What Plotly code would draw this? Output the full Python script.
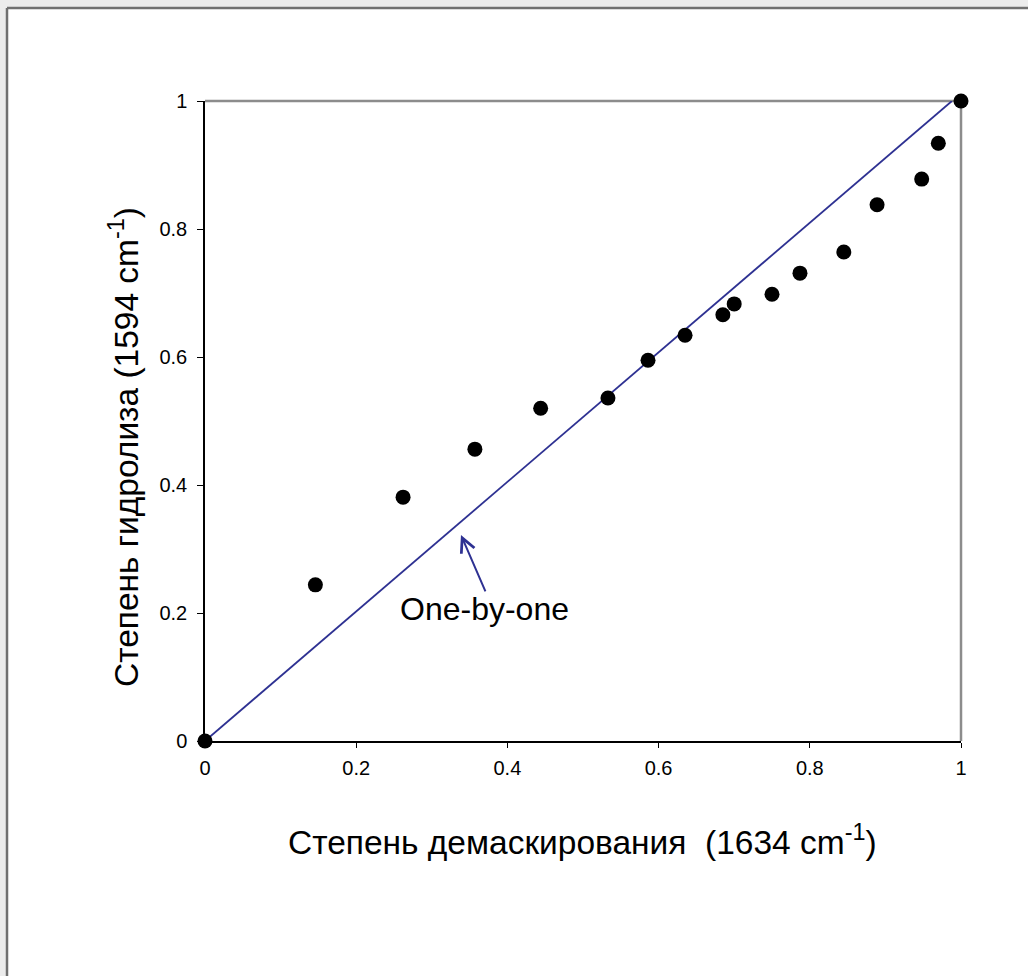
import plotly.graph_objects as go

# data
x_demask = [0.0, 0.146, 0.262, 0.357, 0.444, 0.533, 0.586, 0.635, 0.685, 0.700,
            0.750, 0.787, 0.845, 0.889, 0.948, 0.970, 1.0]
y_hydro = [0.0, 0.244, 0.381, 0.456, 0.520, 0.536, 0.595, 0.634, 0.666, 0.683,
           0.698, 0.731, 0.764, 0.838, 0.878, 0.934, 1.0]
line_x = [0.0, 0.988]
line_y = [0.0, 1.0]
tick_vals = [0, 0.2, 0.4, 0.6, 0.8, 1]
tick_text = ["0", "0.2", "0.4", "0.6", "0.8", "1"]

W, H = 1028, 976
L, R, T, B = 205, 961, 101, 741


def px(x):
    return (x - L) / (R - L)


def py(y):
    return (B - y) / (B - T)


FONT = "Liberation Sans, Arial, sans-serif"

fig = go.Figure()
fig.add_trace(go.Scatter(x=line_x, y=line_y, mode="lines",
                         line=dict(color="#2E3192", width=1.8),
                         showlegend=False, hoverinfo="skip", cliponaxis=False))
fig.add_trace(go.Scatter(x=x_demask, y=y_hydro, mode="markers",
                         marker=dict(color="black", size=15),
                         showlegend=False, cliponaxis=False))

shapes = [
    dict(type="rect", xref="paper", yref="paper", x0=px(7), x1=px(W + 10),
         y0=py(H + 10), y1=py(8), fillcolor="white", line=dict(width=0), layer="below"),
    dict(type="line", xref="paper", yref="paper", x0=px(7), x1=px(W + 10),
         y0=py(8), y1=py(8), line=dict(color="#707070", width=2.5)),
    dict(type="line", xref="paper", yref="paper", x0=px(7), x1=px(7),
         y0=py(8), y1=py(H + 10), line=dict(color="#707070", width=2.5)),
    dict(type="line", xref="paper", yref="paper", x0=0, x1=1, y0=1, y1=1,
         line=dict(color="#8c8c8c", width=2.5), layer="below"),
    dict(type="line", xref="paper", yref="paper", x0=1, x1=1, y0=0, y1=1,
         line=dict(color="#8c8c8c", width=2.5), layer="below"),
]

fig.update_layout(
    width=W, height=H,
    margin=dict(l=L, r=W - R, t=T, b=H - B),
    paper_bgcolor="#ececec",
    plot_bgcolor="rgba(0,0,0,0)",
    shapes=shapes,
    showlegend=False,
    font=dict(family=FONT, color="black"),
)

# arrow: from label to line
fig.add_annotation(x=0.3386, y=0.322, ax=0.3718, ay=0.2315, xref="x", yref="y",
                   axref="x", ayref="y", showarrow=True, arrowhead=5, arrowsize=1.4,
                   arrowwidth=2, arrowcolor="#2E3192", text="")
fig.add_annotation(x=0.37, y=0.206, xref="x", yref="y", text="One-by-one",
                   xanchor="center", yanchor="middle",
                   showarrow=False, font=dict(size=32, family=FONT, color="black"))
fig.add_annotation(x=px(124), y=py(447), xref="paper", yref="paper",
                   text="Степень гидролиза (1594 cm<sup>-1</sup>)", textangle=-90,
                   xanchor="center", yanchor="middle",
                   showarrow=False, font=dict(size=33.5, family=FONT, color="black"))
fig.add_annotation(x=px(582), y=py(840), xref="paper", yref="paper",
                   text="Степень демаскирования  (1634 cm<sup>-1</sup>)",
                   xanchor="center", yanchor="middle",
                   showarrow=False, font=dict(size=33.5, family=FONT, color="black"))

fig.update_xaxes(range=[0, 1], tickvals=tick_vals, ticktext=tick_text,
                 showgrid=False, zeroline=False, showline=True, linecolor="black",
                 linewidth=1.5, ticks="outside", ticklen=5, tickcolor="black",
                 tickwidth=1.2, tickfont=dict(size=20, family=FONT, color="black"),
                 ticklabelstandoff=3)
fig.update_yaxes(range=[0, 1], tickvals=tick_vals, ticktext=tick_text,
                 showgrid=False, zeroline=False, showline=True, linecolor="black",
                 linewidth=1.5, ticks="outside", ticklen=6, tickcolor="black",
                 tickwidth=1.2, tickfont=dict(size=20, family=FONT, color="black"),
                 ticklabelstandoff=6)

fig.write_html("out.html")
